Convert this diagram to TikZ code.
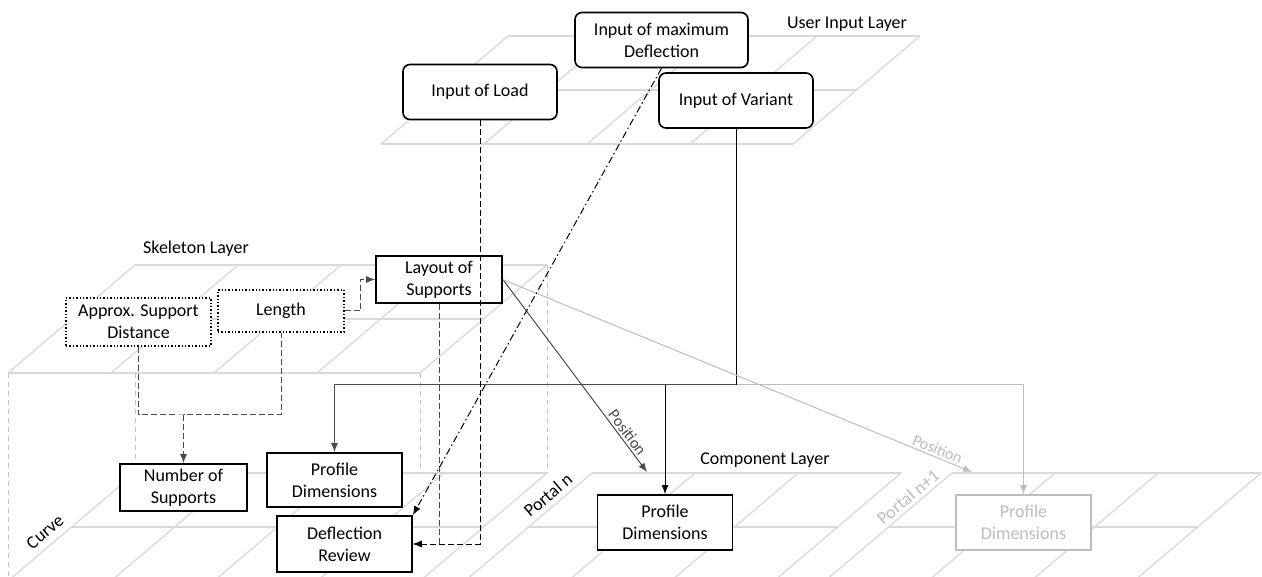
\documentclass[tikz,border=0pt]{standalone}
\usepackage{fontspec}
\setmainfont{Carlito}
\usetikzlibrary{arrows.meta,calc,positioning}
\definecolor{planegrey}{HTML}{D9D9D9}
\definecolor{edgegrey}{HTML}{C4C4C4}
\definecolor{darkline}{HTML}{4A4A4A}
\definecolor{fadegrey}{HTML}{BDBDBD}
\newcommand{\diagfont}{\fontsize{18}{22}\selectfont}
\newcommand{\smallfont}{\fontsize{16}{18}\selectfont}
\tikzset{
  plane line/.style={planegrey,line width=1.3pt},
  box edge/.style={edgegrey,line width=0.9pt,dash pattern=on 5pt off 4pt},
  input box/.style={rectangle,rounded corners=7pt,draw=black,line width=1.6pt,
    fill=white,minimum width=154pt,minimum height=55pt,align=center,
    font=\diagfont},
  skeleton box/.style={rectangle,draw=black,dotted,line width=1.4pt,
    fill=white,align=center,font=\diagfont,inner sep=0pt},
  component box/.style={rectangle,draw=black,line width=1.7pt,fill=white,
    minimum width=135pt,minimum height=55pt,align=center,font=\diagfont},
  layer title/.style={font=\diagfont,inner sep=0pt},
  position label/.style={font=\smallfont,inner sep=2pt},
  dep edge/.style={-{Latex[length=9pt,width=7pt]},line width=1pt},
  dashed dep/.style={dep edge,dash pattern=on 6pt off 3pt},
  dashed join/.style={line width=1pt,darkline,dash pattern=on 6pt off 3pt},
  dashdot dep/.style={dep edge,dash pattern=on 7pt off 3pt on 1.5pt off 3pt}
}
% one grey layer grid: top left x, top left y, columns
\newcommand{\layergrid}[3]{%
  \foreach \c in {0,...,#3}
    \draw[plane line] ({#1+103*\c},#2) -- ++(-127,108);
  \foreach \r in {0,1,2}
    \draw[plane line] ({#1-63.5*\r},{#2+54*\r}) -- ++({103*#3},0);
}

\begin{document}
\begin{tikzpicture}[x=1pt,y=-1pt]
  \useasboundingbox (0,0) rectangle (1262,577);
  \clip (0,0) rectangle (1262,577);
  % layers
  \layergrid{508}{36}{4}
  \layergrid{135}{265}{4}
  \layergrid{135}{473}{4}
  \layergrid{592}{473}{3}
  \layergrid{952}{473}{3}
  % edges of the skeleton box
  \draw[box edge] (8,373) -- (8,581);
  \draw[box edge] (135,373) -- (135,473);
  \draw[box edge] (420,373) -- (420,473);
  \draw[box edge] (547,265) -- (547,473);
  % layer titles
  \node[layer title] (usertitle) at (847,24) {User Input Layer};
  \node[layer title] (skeletontitle) at (196,249) {Skeleton Layer};
  \node[layer title] (componenttitle) at (765,460) {Component Layer};
  \node[layer title,rotate=40] (curvelabel) at (45,532) {Curve};
  \node[layer title,rotate=40] (portallabel) at (548,495) {Portal n};
  \node[layer title,rotate=40,text=fadegrey] (nextportallabel) at (908,497)
    {Portal n+1};
  % user input
  \node[input box] (load) at (480,92) {Input of Load};
  \node[input box,minimum width=173pt] (maxdefl) at (661.5,40)
    {Input of maximum\\Deflection};
  \node[input box] (variant) at (736,100.5) {Input of Variant};
  % skeleton
  \node[skeleton box,minimum width=145pt,minimum height=48pt] (supportdist)
    at (138.5,322) {Approx. Support\\Distance};
  \node[skeleton box,minimum width=126pt,minimum height=42pt] (length)
    at (281,311) {Length};
  \node[component box,minimum width=126pt,minimum height=47pt,inner sep=0pt]
    (layout) at (439,279.5) {Layout of\\Supports};
  % components
  \node[component box,minimum width=127pt,minimum height=47pt] (numsupports)
    at (183.5,487.5) {Number of\\Supports};
  \node[component box,minimum height=54pt] (profilecurve) at (334.5,480)
    {Profile\\Dimensions};
  \node[component box,minimum height=56pt] (deflreview) at (344.5,544)
    {Deflection\\Review};
  \node[component box] (profileportal) at (665,522.5) {Profile\\Dimensions};
  \node[component box,draw=fadegrey,text=fadegrey] (profilenext)
    at (1023.5,522.5) {Profile\\Dimensions};
  % connectors
  \coordinate (supportmerge) at (183.5,415);
  \coordinate (variantturn) at (736,385);
  \coordinate (portalhit) at (647,472);
  \coordinate (nextportalhit) at (972,472);
  \draw[dashed dep,darkline] (length.east) -- ++(16,0) |- (layout.west);
  \draw[dashed join] (supportdist.south) |- (supportmerge) -| (length.south);
  \draw[dashed dep,darkline] (supportmerge) -- (numsupports.north);
  \draw[dep edge,fadegrey] (variantturn) -| (profilenext.north);
  \draw[line width=1pt] (variant.south) -- (variantturn);
  \draw[dep edge,darkline] (variantturn) -| (profilecurve.north);
  \draw[dep edge] (profileportal.north |- variantturn) -- (profileportal.north);
  \draw[dep edge,darkline] (layout.east) -- node[position label,sloped,above,
    pos=0.82] (portalpos) {Position} (portalhit);
  \draw[dep edge,fadegrey] (layout.east) -- node[position label,sloped,above,
    pos=0.92,text=fadegrey] (nextportalpos) {Position} (nextportalhit);
  \draw[dashed dep,darkline] (layout.south) |- (deflreview.east);
  \draw[dashed dep] (load.south) |- (deflreview.east);
  \draw[dashdot dep] (maxdefl.south) -- (deflreview.north east);
\end{tikzpicture}
\end{document}
